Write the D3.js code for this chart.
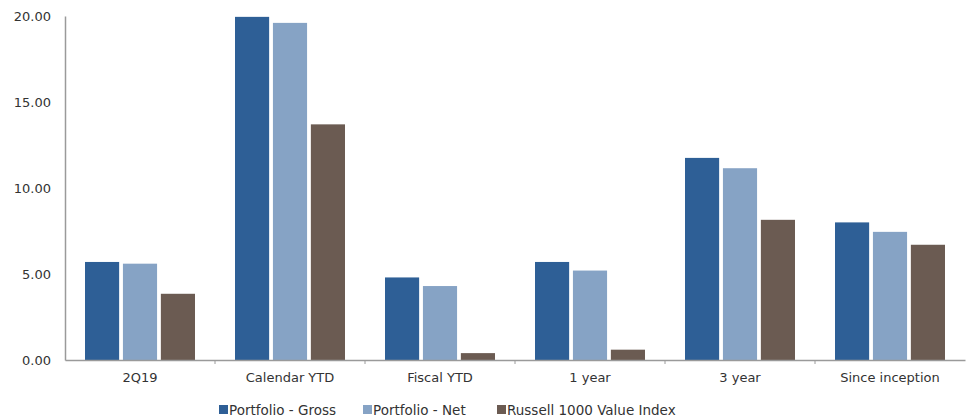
<!DOCTYPE html>
<html>
<head>
<script src="https://d3js.org/d3.v7.min.js"></script>
<style>
  body { margin: 0; background: #fff; }
  text { font-family: "DejaVu Sans", Verdana, sans-serif; fill: #333; }
</style>
</head>
<body>
<svg width="967" height="420"></svg>
<script>
const categories = ["2Q19", "Calendar YTD", "Fiscal YTD", "1 year", "3 year", "Since inception"];
const seriesNames = ["Portfolio - Gross", "Portfolio - Net", "Russell 1000 Value Index"];
const gross = [5.70, 19.95, 4.80, 5.70, 11.75, 8.00];
const net = [5.60, 19.60, 4.30, 5.20, 11.15, 7.45];
const russell = [3.85, 13.70, 0.40, 0.60, 8.15, 6.70];
const yTicks = [0, 5, 10, 15, 20];
const colors = ["#2e5f96", "#86a3c5", "#6b5b52"];

const svg = d3.select("svg");
const margin = { top: 16, right: 2, bottom: 60, left: 65 };
const width = 967 - margin.left - margin.right;
const height = 420 - margin.top - margin.bottom;

const g = svg.append("g")
    .attr("transform", "translate(" + margin.left + "," + margin.top + ")");

const x = d3.scaleBand().domain(categories).range([0, width]).paddingInner(0).paddingOuter(0);
const x1 = d3.scaleBand().domain(seriesNames).range([20, x.bandwidth() - 20]).paddingInner(0.1);
const y = d3.scaleLinear().domain([0, 20]).range([height, 0]);

const data = categories.map((c, i) => ({ cat: c, vals: [gross[i], net[i], russell[i]] }));

// bars
const groups = g.selectAll(".grp").data(data).enter().append("g")
    .attr("class", "grp")
    .attr("transform", d => "translate(" + x(d.cat) + ",0)");
groups.selectAll("rect")
    .data(d => d.vals.map((v, k) => ({ name: seriesNames[k], v: v, k: k })))
    .enter().append("rect")
    .attr("x", d => x1(d.name))
    .attr("width", x1.bandwidth())
    .attr("y", d => y(d.v))
    .attr("height", d => y(0) - y(d.v))
    .style("fill", d => colors[d.k]);

// y axis
const yAxis = g.append("g").call(d3.axisLeft(y).tickValues(yTicks).tickFormat(d3.format(".2f")).tickSize(0).tickPadding(14));
yAxis.select(".domain").attr("stroke", "#9a9a9a").attr("stroke-width", 1.5);
yAxis.selectAll("text").style("font-size", "13px").attr("fill", "#333");

// x axis
const xAxis = g.append("g").attr("transform", "translate(0," + height + ")")
    .call(d3.axisBottom(x).tickSize(0).tickPadding(13));
xAxis.select(".domain").attr("stroke", "#9a9a9a").attr("stroke-width", 1.5);
xAxis.selectAll("text").style("font-size", "13px").attr("fill", "#333");
// boundary ticks between categories
g.selectAll(".bt").data(categories.slice(1)).enter().append("line")
    .attr("x1", d => x(d)).attr("x2", d => x(d))
    .attr("y1", height).attr("y2", height + 4)
    .attr("stroke", "#9a9a9a");

// legend
const legend = svg.append("g").attr("transform", "translate(0,410)");
const legX = [219, 363, 497];
seriesNames.forEach((n, k) => {
  const lg = legend.append("g").attr("transform", "translate(" + legX[k] + ",0)");
  lg.append("rect").attr("x", 0).attr("y", -5).attr("width", 9).attr("height", 9).style("fill", colors[k]);
  lg.append("text").attr("x", 10).attr("y", 5).style("font-size", "13.5px").text(n);
});
</script>
</body>
</html>
